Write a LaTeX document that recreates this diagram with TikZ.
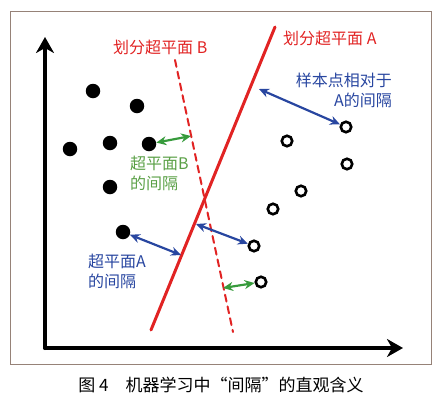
\documentclass[tikz,border=0pt]{standalone}
\usepackage{fontspec}
\newfontfamily\cjk{Noto Sans CJK SC}
\usepackage{tikz}
\usetikzlibrary{arrows.meta}

\definecolor{hypred}{RGB}{225,35,35}
\definecolor{gapblue}{RGB}{40,70,160}
\definecolor{gapgreen}{RGB}{55,155,60}
\definecolor{lblgreen}{RGB}{90,160,70}
\definecolor{framegray}{RGB}{150,130,120}

\begin{document}
\begin{tikzpicture}[x=1pt, y=-1pt, line cap=round,
  soliddot/.style={circle, fill=black, inner sep=0pt, minimum size=14.5pt},
  hollowdot/.style={circle, draw=black, line width=2.6pt, inner sep=0pt, minimum size=10.5pt},
  gap/.style={{Stealth[length=10pt,width=9pt]}-{Stealth[length=10pt,width=9pt]}, line width=2.2pt},
  axis/.style={line width=4pt, -{Stealth[length=16pt,width=18pt,inset=5pt]}},
  lbl/.style={font=\cjk\fontsize{16}{20}\selectfont, inner sep=0pt}]
  \useasboundingbox (0,0) rectangle (440,405);

  % ---------------- frame and axes ----------------
  \draw[framegray, line width=0.8pt] (10,11) rectangle (431,364);
  \coordinate (origin) at (45,348);
  \coordinate (ytip) at (45,37);
  \coordinate (xtip) at (403,348);
  \draw[axis] (origin) -- (ytip);
  \draw[axis] (origin) -- (xtip);

  % ---------------- hyperplanes ----------------
  \coordinate (Atop) at (275,27);
  \coordinate (Abot) at (151,330);
  \coordinate (Btop) at (175,60);
  \coordinate (Bbot) at (233,332);
  \draw[hypred, line width=3pt] (Abot) -- (Atop);
  \draw[hypred, line width=2pt, dash pattern=on 7pt off 5pt] (Btop) -- (Bbot);
  \node[lbl, text=hypred, anchor=west] (labB) at (113,47) {划分超平面 B};
  \node[lbl, text=hypred, anchor=west] (labA) at (283,38) {划分超平面 A};

  % ---------------- samples ----------------
  \foreach \x/\y [count=\i] in {93/91,137/106,70/149,110/143,149/144,110/187,123/232}
    \node[soliddot] (s\i) at (\x,\y) {};
  \foreach \x/\y [count=\i] in {346/127,287/141,347/164,301/191,273/209,254/246,261/282}
    \node[hollowdot] (h\i) at (\x,\y) {};

  % ---------------- margins ----------------
  \coordinate (gA1) at (259,89);
  \coordinate (gA2) at (181,255);
  \coordinate (gA3) at (196,224);
  \coordinate (gB1) at (191,136);
  \coordinate (gB2) at (223,288);
  \draw[gap, gapblue] (gA1) -- (h1);
  \draw[gap, gapblue] (s7) -- (gA2);
  \draw[gap, gapblue] (gA3) -- (h6);
  \draw[gap, gapgreen] (s5) -- (gB1);
  \draw[gap, gapgreen] (gB2) -- (h7);

  \node[lbl, text=gapblue, align=right, anchor=east] (labgA) at (392,90) {样本点相对于\\A的间隔};
  \node[lbl, text=lblgreen, align=left, anchor=west] (labgB) at (130,173) {超平面B\\的间隔};
  \node[lbl, text=gapblue, align=left, anchor=west] (labgA2) at (88,271) {超平面A\\的间隔};

  % ---------------- caption ----------------
  \node[font=\cjk\fontsize{17}{20}\selectfont, inner sep=0pt] (cap) at (221,385)
    {图 4\quad 机器学习中“间隔”的直观含义};
\end{tikzpicture}
\end{document}
